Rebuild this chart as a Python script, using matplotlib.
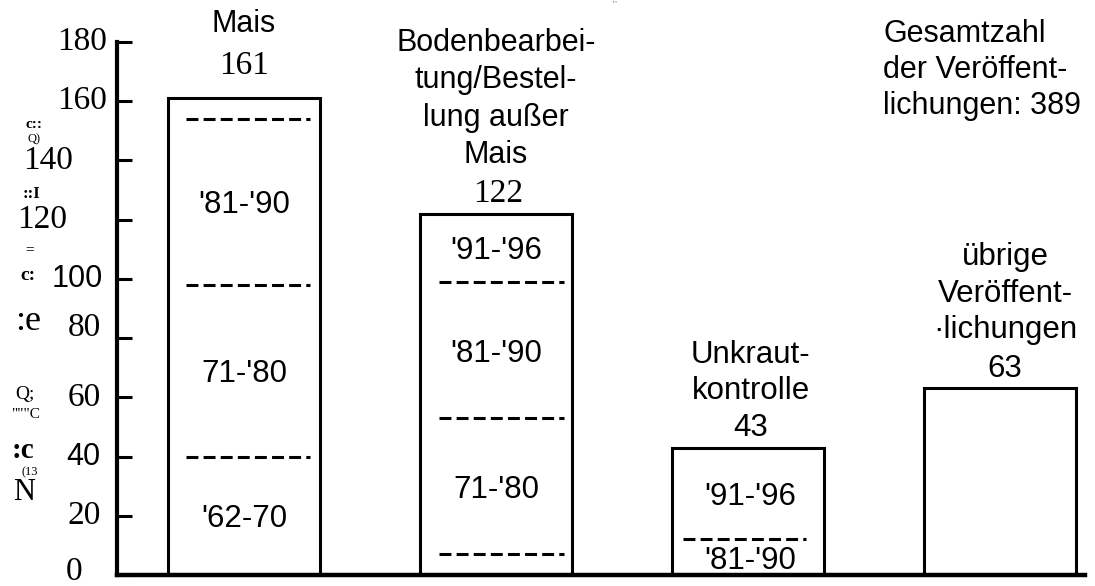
import numpy as np
import matplotlib.pyplot as plt

# Anzahl Veröffentlichungen je Themenbereich, aufgeteilt nach Zeitraum
categories = ["Mais", "Bodenbearbeitung", "Unkrautkontrolle", "übrige"]
totals = [161, 122, 43, 63]

mais_segments = [40, 58, 56, 7]
boden_segments = [7, 46, 46, 23]
unkraut_segments = [0, 0, 12, 31]
uebrige_segments = [63]

mais_labels = ["'62-70", "71-'80", "'81-'90", ""]
boden_labels = ["", "71-'80", "'81-'90", "'91-'96"]
unkraut_labels = ["", "", "'81-'90", "'91-'96"]
uebrige_labels = [""]

y_ticks = [0, 20, 40, 60, 80, 100, 120, 140, 160, 180]

SANS = ['Liberation Sans', 'DejaVu Sans']
SERIF = ['Liberation Serif', 'DejaVu Serif']

fig = plt.figure(figsize=(10.95, 5.86), dpi=100)
ax = fig.add_axes([117 / 1095, 11 / 586, 968 / 1095, 533 / 586])

x = np.arange(len(categories))
width = 0.6
ax.bar(x, totals, width=width, color='white', edgecolor='black', linewidth=2.2, zorder=2)

segments = [mais_segments, boden_segments, unkraut_segments, uebrige_segments]
labels = [mais_labels, boden_labels, unkraut_labels, uebrige_labels]
label_dx = [0.0, 0.0, 0.01, 0.0]
dash_span = [(-0.23, 0.26), (-0.225, 0.27), (-0.26, 0.23), (-0.23, 0.26)]
for i, (seg, lab) in enumerate(zip(segments, labels)):
    bounds = np.cumsum([0] + seg)
    # gestrichelte Trennlinien zwischen den Zeiträumen
    for b in bounds[1:-1]:
        if b <= 0:
            continue
        ax.hlines(b, x[i] + dash_span[i][0], x[i] + dash_span[i][1], colors='black',
                  linewidth=2.2, linestyles=(0, (3.9, 1.7)), zorder=3)
    for j, txt in enumerate(lab):
        if txt:
            mid = (bounds[j] + bounds[j + 1]) / 2
            ax.text(x[i] + label_dx[i], mid - 1.2, txt, ha='center', va='center',
                    fontsize=22.5, family=SANS, zorder=4)

ax.set_xlim(-0.504, 3.337)
ax.set_ylim(0, 180)
ax.set_xticks([])
ax.set_yticks(y_ticks)
ax.set_yticklabels([])
ax.tick_params(axis='y', direction='in', length=11, width=2.2)
for s in ('top', 'right'):
    ax.spines[s].set_visible(False)
ax.spines['left'].set_linewidth(3)
ax.spines['bottom'].set_linewidth(3.2)

# Skalenbeschriftung – Lage wie in der Vorlage, teils verschoben
ytrans = ax.get_yaxis_transform()
tick_dx = {180: -0.010, 160: -0.010, 140: -0.045, 120: -0.052, 100: -0.0145, 0: -0.036}
tick_dy = {80: 3.5, 0: 1}
tick_sans = {100, 40}
for t in y_ticks:
    ax.text(tick_dx.get(t, -0.017), t + tick_dy.get(t, 0), str(t), transform=ytrans,
            ha='right', va='center',
            fontsize=24 if t not in tick_sans else 22,
            family=SANS if t in tick_sans else SERIF, clip_on=False)

# Kategoriebeschriftungen
ax.text(0, 186.2, "Mais", ha='center', va='center', fontsize=22, family=SANS, clip_on=False)
ax.text(0, 171.9, str(totals[0]), ha='center', va='center', fontsize=24, family=SERIF, clip_on=False)

boden_lines = ["Bodenbearbei-", "tung/Bestel-", "lung außer", "Mais"]
boden_y = [179.5, 167.0, 154.5, 142.0]
for txt, yy in zip(boden_lines, boden_y):
    ax.text(1.0, yy, txt, ha='center', va='center', fontsize=22, family=SANS, clip_on=False)
ax.text(1.01, 128.8, str(totals[1]), ha='center', va='center', fontsize=24, family=SERIF)

for txt, yy in zip(["Unkraut-", "kontrolle", str(totals[2])], [74.3, 62.2, 49.6]):
    ax.text(2.01, yy, txt, ha='center', va='center', fontsize=22.5, family=SANS)

for txt, yy in zip(["übrige", "Veröffent-", "·lichungen", str(totals[3])], [107.3, 94.8, 82.8, 69.6]):
    ax.text(3.02, yy, txt, ha='center', va='center', fontsize=22.5, family=SANS)

for txt, yy in zip(["Gesamtzahl", "der Veröffent-", "lichungen: 389"], [182.7, 170.5, 158.3]):
    ax.text(2.536, yy, txt, ha='left', va='center', fontsize=22, family=SANS, clip_on=False)

# verstümmelte Achsentitel-Reste aus der Vorlage
ylab_bits = [
    ("c::", 34, 124, 11, 'bold'),
    ("Q)", 34, 139, 9, 'normal'),
    ("::I", 32, 194, 12, 'bold'),
    ("=", 30, 250, 11, 'bold'),
    ("c:", 28, 276, 14, 'bold'),
    (":e", 28, 322, 26, 'normal'),
    ("Q;", 25, 395, 14, 'normal'),
    ("\"\"\"C", 25, 415, 11, 'normal'),
    (":c", 23, 450, 21, 'bold'),
    ("(13", 30, 472, 9, 'normal'),
    ("N", 24, 492, 22, 'normal'),
]
for txt, px, py, fs, fw in ylab_bits:
    fig.text(px / 1095, 1 - py / 586, txt, ha='center', va='center', fontsize=fs,
             fontweight=fw, family=SERIF)

fig.text(615 / 1095, 1 - 4 / 586, "''''", ha='center', va='center', fontsize=5,
         color='0.5', family=SANS)

fig.savefig("out.png", dpi=100, facecolor='white')
